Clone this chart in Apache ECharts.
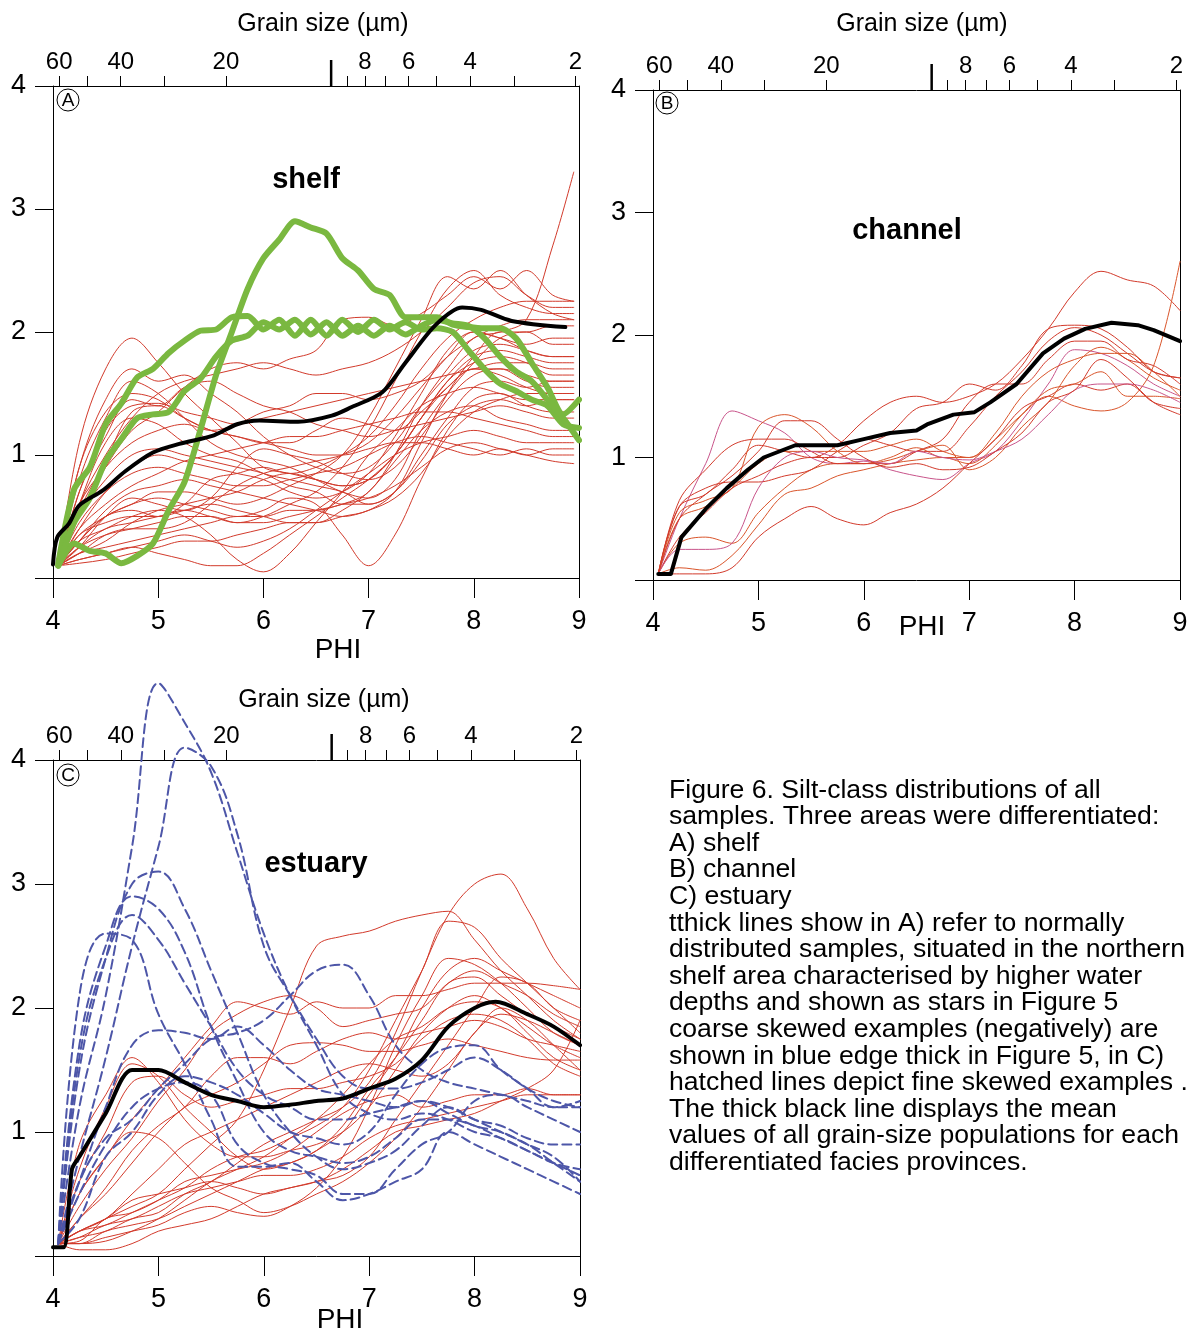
<!DOCTYPE html>
<html>
<head>
<meta charset="utf-8">
<script src="https://cdn.jsdelivr.net/npm/echarts@6/dist/echarts.min.js"></script>
<style>
html, body { margin: 0; background: #fff; }
#chart { width: 1191px; height: 1333px; }
</style>
</head>
<body>
<div id="chart"></div>
<script>
// grain size ticks on the top axis (µm)
var grainTicks = [60, 50, 40, 30, 20, 9, 8, 7, 6, 5, 4, 3, 2];
var grainLabels = [60, 40, 20, 8, 6, 4, 2];
var grainLong = 10;

// phi positions of the sample curves
var phiA = [4.05, 4.25, 4.5, 4.75, 5, 5.25, 5.5, 5.75, 6, 6.25, 6.5, 6.75, 7, 7.25, 7.5, 7.75, 8, 8.25, 8.5, 8.75, 8.95];
var phiB = [4.05, 4.25, 4.5, 4.75, 5, 5.25, 5.5, 5.75, 6, 6.25, 6.5, 6.75, 7, 7.25, 7.5, 7.75, 8, 8.25, 8.5, 8.75, 9];
var phiC = phiB;
var phiGreen = [4.05, 4.2, 4.35, 4.5, 4.65, 4.8, 4.95, 5.1, 5.25, 5.4, 5.55, 5.7, 5.85, 6, 6.15, 6.3, 6.45, 6.6, 6.75, 6.9, 7.05, 7.2, 7.35, 7.5, 7.65, 7.8, 7.95, 8.1, 8.25, 8.4, 8.55, 8.7, 8.85, 9];

// A) shelf samples
var shelfSamples = [
  [0.1,1.1,1.7,1.95,1.75,1.5,1.3,1.1,0.9,0.85,0.8,0.75,0.8,1.0,1.3,1.55,1.7,1.65,1.55,1.5,1.5],
  [0.1,0.9,1.45,1.7,1.6,1.65,1.5,1.35,1.15,1.0,0.9,0.85,0.9,1.1,1.4,1.65,1.85,1.9,1.85,1.8,1.8],
  [0.1,0.8,1.3,1.6,1.5,1.3,1.1,1.0,0.95,0.9,0.8,0.7,0.65,0.8,1.2,1.5,1.75,1.95,2.0,1.9,1.9],
  [0.1,0.7,1.2,1.4,1.42,1.35,1.3,1.25,1.3,1.35,1.4,1.45,1.5,1.55,1.6,1.65,1.7,1.75,1.75,1.7,1.7],
  [0.1,0.6,1.0,1.3,1.5,1.6,1.65,1.7,1.75,1.7,1.65,1.7,1.75,1.85,2.0,2.2,2.4,2.45,2.3,2.2,2.2],
  [0.1,0.5,0.9,1.2,1.35,1.55,1.7,1.75,1.7,1.78,1.85,2.1,2.12,2.05,2.15,2.3,2.45,2.35,2.5,2.3,2.25],
  [0.1,0.6,1.1,1.3,1.25,1.1,1.0,0.95,0.85,0.8,0.75,0.7,0.6,0.7,1.0,1.3,1.55,1.6,1.55,1.6,1.6],
  [0.1,0.2,0.25,0.3,0.35,0.4,0.45,0.5,0.5,0.55,0.55,0.6,0.65,0.75,0.9,1.05,1.1,1.05,1.0,0.95,0.93],
  [0.1,0.3,0.4,0.5,0.55,0.5,0.35,0.15,0.05,0.2,0.45,0.7,1.0,1.2,1.4,1.5,1.55,1.5,1.45,1.45,1.45],
  [0.1,0.35,0.5,0.6,0.65,0.6,0.55,0.5,0.55,0.65,0.6,0.35,0.1,0.35,0.8,1.2,1.45,1.5,1.4,1.35,1.35],
  [0.1,0.25,0.35,0.4,0.45,0.5,0.5,0.45,0.45,0.5,0.55,0.6,0.7,1.0,1.4,1.7,1.95,2.0,2.1,2.7,3.3],
  [0.1,0.15,0.2,0.25,0.2,0.15,0.1,0.1,0.2,0.35,0.5,0.65,0.8,1.0,1.3,1.6,1.8,1.85,1.8,1.75,1.75],
  [0.1,0.4,0.6,0.75,0.85,0.95,1.0,1.05,1.1,1.15,1.15,1.2,1.25,1.3,1.35,1.35,1.3,1.25,1.2,1.15,1.15],
  [0.1,0.5,0.8,1.0,1.05,1.0,0.95,0.9,0.85,0.75,0.7,0.6,0.6,0.7,0.95,1.25,1.4,1.45,1.4,1.45,1.45],
  [0.1,0.3,0.55,0.7,0.75,0.8,0.75,0.7,0.65,0.6,0.55,0.5,0.55,0.65,0.85,1.15,1.35,1.45,1.5,1.5,1.5],
  [0.1,0.2,0.3,0.45,0.55,0.6,0.65,0.7,0.8,0.85,0.8,0.75,0.8,1.0,1.3,1.6,1.75,1.8,1.75,1.65,1.65],
  [0.1,0.12,0.15,0.2,0.25,0.3,0.3,0.35,0.4,0.45,0.45,0.5,0.55,0.7,1.1,1.5,1.8,2.0,2.0,2.05,2.05],
  [0.1,0.6,0.9,1.1,1.2,1.25,1.2,1.25,1.35,1.4,1.5,1.5,1.45,1.5,1.6,1.8,1.95,2.05,2.1,2.1,2.1],
  [0.1,0.3,0.5,0.6,0.7,0.7,0.65,0.6,0.65,0.75,0.85,1.0,1.3,1.7,2.1,2.45,2.35,2.5,2.3,2.15,2.1],
  [0.1,0.45,0.7,0.85,0.9,0.85,0.8,0.75,0.75,0.8,0.85,0.9,1.0,1.1,1.15,1.1,1.05,1.0,1.05,1.0,1.0],
  [0.1,0.35,0.45,0.5,0.5,0.55,0.6,0.55,0.5,0.45,0.45,0.55,0.7,0.95,1.2,1.35,1.4,1.3,1.25,1.2,1.2],
  [0.1,0.55,0.95,1.35,1.4,1.3,1.2,1.15,1.1,1.1,1.2,1.3,1.25,1.2,1.35,1.55,1.7,1.7,1.65,1.6,1.6],
  [0.1,0.25,0.5,0.65,0.6,0.55,0.65,0.9,1.05,1.0,0.95,0.85,0.8,0.9,1.15,1.45,1.65,1.7,1.6,1.55,1.55],
  [0.1,0.2,0.35,0.4,0.4,0.45,0.6,0.75,0.85,0.9,0.95,1.0,1.1,1.3,1.55,1.8,2.0,1.95,1.85,1.8,1.8],
  [0.1,0.7,1.15,1.45,1.4,1.55,1.6,1.5,1.4,1.35,1.25,1.2,1.15,1.2,1.25,1.3,1.35,1.4,1.35,1.3,1.3],
  [0.1,0.4,0.7,0.9,1.0,0.95,0.9,0.85,0.8,0.7,0.65,0.7,0.85,1.15,1.5,1.85,2.0,1.95,1.9,1.95,1.95],
  [0.1,0.15,0.2,0.25,0.3,0.35,0.3,0.25,0.3,0.4,0.55,0.7,0.85,1.0,1.1,1.15,1.2,1.15,1.1,1.1,1.1],
  [0.1,0.3,0.5,0.55,0.5,0.6,0.8,0.85,0.9,0.85,0.9,1.0,1.15,1.4,1.7,1.95,2.1,2.2,2.25,2.25,2.25],
  [0.1,0.9,1.35,1.5,1.45,1.3,1.2,1.15,1.1,1.05,1.0,1.0,1.05,1.1,1.1,1.05,1.0,1.05,1.0,1.05,1.05],
  [0.1,0.25,0.4,0.45,0.5,0.55,0.5,0.45,0.5,0.6,0.7,0.9,1.2,1.6,2.0,2.35,2.5,2.3,2.2,2.15,2.15]
];

// A) normally distributed (thick green) samples
var shelfNormal = [
  [0.1,0.28,0.22,0.2,0.12,0.18,0.28,0.55,0.78,1.2,1.65,2.0,2.35,2.6,2.75,2.9,2.85,2.8,2.6,2.5,2.35,2.3,2.12,2.12,2.12,2.06,2.04,2.03,2.03,1.95,1.75,1.55,1.33,1.45],
  [0.12,0.72,0.9,1.25,1.42,1.63,1.7,1.83,1.93,2.01,2.02,2.12,2.13,2.02,2.1,1.97,2.1,1.97,2.1,2.0,2.1,2.02,2.08,2.02,2.03,2.0,1.85,1.7,1.58,1.52,1.45,1.4,1.25,1.22],
  [0.1,0.45,0.65,0.95,1.13,1.3,1.33,1.35,1.52,1.62,1.8,1.93,1.97,2.08,2.02,2.1,1.98,2.08,1.97,2.05,1.97,2.05,1.98,2.05,2.1,2.07,2.05,1.95,1.8,1.68,1.6,1.45,1.3,1.12]
];

var meanAPhi = [4.0,4.04,4.15,4.25,4.47,4.69,4.95,5.2,5.53,5.75,5.96,6.33,6.65,6.84,7.13,7.35,7.64,7.89,8.07,8.36,8.87];
var meanA = [0.11,0.33,0.44,0.59,0.71,0.87,1.02,1.09,1.16,1.25,1.28,1.27,1.32,1.39,1.51,1.75,2.06,2.2,2.18,2.09,2.04];

// B) channel samples
var channelSamples = [
  [0.05,0.5,0.95,1.38,1.3,1.2,1.0,0.95,0.97,0.9,0.85,0.82,0.95,1.05,1.3,1.6,1.88,1.85,1.75,1.6,1.5],
  [0.05,0.6,0.7,0.9,1.1,1.05,1.0,1.1,1.3,1.45,1.5,1.45,1.5,1.6,1.8,2.05,2.35,2.52,2.45,2.4,2.2],
  [0.05,0.3,0.35,0.3,0.55,0.75,0.9,0.95,0.95,1.0,1.08,1.0,1.0,1.15,1.35,1.5,1.42,1.38,1.45,1.75,2.6],
  [0.05,0.05,0.05,0.1,0.35,0.5,0.6,0.5,0.45,0.55,0.62,0.75,0.95,1.15,1.4,1.5,1.6,1.55,1.6,1.45,1.4],
  [0.05,0.1,0.08,0.2,0.45,0.7,0.75,0.85,0.9,0.95,0.98,1.0,0.95,1.1,1.35,1.55,1.6,1.7,1.5,1.5,1.48],
  [0.05,0.6,0.75,0.8,0.8,0.85,0.9,1.05,1.15,1.1,1.05,1.05,1.25,1.5,1.7,1.95,2.06,2.0,1.85,1.7,1.65],
  [0.05,0.55,0.65,0.75,1.25,1.35,1.25,1.05,0.95,0.98,1.05,1.1,0.9,1.0,1.25,1.45,1.75,1.9,1.8,1.65,1.55],
  [0.05,0.65,0.9,1.1,1.15,1.15,1.05,0.95,0.95,0.95,1.05,1.15,1.45,1.6,1.6,1.8,1.95,1.95,1.8,1.75,1.6],
  [0.05,0.5,0.6,0.75,0.95,1.05,1.05,1.05,1.05,1.1,1.15,1.05,1.0,1.2,1.5,1.7,1.8,1.85,1.85,1.7,1.5],
  [0.05,0.35,0.55,0.75,0.85,0.95,1.0,1.0,1.1,1.2,1.4,1.45,1.6,1.55,1.75,2.05,2.08,2.05,1.9,1.7,1.65],
  [0.05,0.25,0.25,0.3,0.75,1.0,1.05,1.0,0.98,0.95,1.05,1.0,0.98,1.05,1.15,1.35,1.55,1.6,1.6,1.55,1.45],
  [0.05,0.5,0.7,0.85,1.05,1.3,1.3,1.15,1.0,0.92,0.95,0.9,0.92,1.05,1.2,1.45,1.55,1.8,1.65,1.45,1.35]
];
var channelColors = ['#c8548a','#d23a2b','#d9552b','#d23a2b','#d9552b','#d23a2b','#d9552b','#d23a2b','#d9552b','#d23a2b','#c8548a','#d23a2b'];

var meanBPhi = [4.05,4.17,4.27,4.5,4.7,4.9,5.05,5.35,5.75,6.0,6.25,6.5,6.6,6.85,7.05,7.2,7.45,7.7,7.9,8.1,8.35,8.6,8.75,9.0];
var meanB = [0.05,0.05,0.35,0.58,0.75,0.9,1.0,1.1,1.1,1.15,1.2,1.22,1.27,1.35,1.37,1.45,1.6,1.85,1.97,2.05,2.1,2.08,2.04,1.95];

// C) estuary samples
var estuarySamples = [
  [0.1,0.15,0.2,0.3,0.35,0.5,0.6,0.75,0.9,1.0,1.1,1.2,1.4,1.8,2.3,2.75,3.0,3.08,2.8,2.4,2.15],
  [0.1,0.2,0.25,0.35,0.45,0.55,0.7,0.8,0.85,0.95,1.05,1.2,1.5,1.9,2.3,2.7,2.65,2.4,2.2,2.0,1.8],
  [0.1,0.2,0.3,0.4,0.5,0.7,0.9,1.1,1.5,2.0,2.5,2.58,2.62,2.7,2.75,2.78,2.55,2.3,2.1,1.9,1.75],
  [0.1,0.9,1.3,1.6,1.4,1.1,0.9,0.8,0.8,0.85,0.9,1.0,1.2,1.5,1.8,2.0,2.1,2.0,1.85,1.7,1.6],
  [0.1,0.7,1.2,1.55,1.45,1.2,1.0,0.8,0.7,0.75,0.85,1.0,1.3,1.6,2.0,2.3,2.4,2.3,2.2,2.1,2.0],
  [0.1,0.5,0.8,1.1,1.35,1.6,1.85,2.05,2.0,1.95,2.05,2.0,2.0,2.1,2.1,2.15,2.2,2.2,2.2,2.18,2.15],
  [0.1,0.4,0.7,0.95,1.25,1.5,1.8,1.95,2.05,2.1,2.0,1.85,1.9,1.95,2.0,2.2,2.3,2.2,2.1,1.95,1.85],
  [0.1,0.3,0.5,0.75,1.0,1.2,1.3,1.4,1.55,1.7,1.72,1.7,1.65,1.65,1.7,1.75,1.7,1.65,1.6,1.58,1.58],
  [0.1,0.2,0.3,0.5,0.7,0.9,1.0,1.1,1.2,1.3,1.4,1.5,1.55,1.5,1.45,1.55,1.8,2.0,1.9,1.7,1.5],
  [0.1,0.1,0.15,0.2,0.25,0.35,0.4,0.35,0.32,0.4,0.55,0.8,1.2,1.7,2.1,2.4,2.35,2.2,2.0,1.8,1.7],
  [0.1,0.1,0.2,0.25,0.3,0.4,0.5,0.6,0.7,0.75,0.85,1.05,1.35,1.6,1.9,2.2,2.25,2.1,1.95,1.85,1.75],
  [0.1,0.12,0.3,0.35,0.45,0.6,0.65,0.7,0.75,0.85,1.0,1.15,1.25,1.3,1.2,1.25,1.3,1.3,1.35,1.3,1.3],
  [0.1,0.6,1.0,1.4,1.45,1.3,1.2,1.25,1.3,1.35,1.35,1.4,1.45,1.55,1.75,1.9,1.95,1.9,1.75,1.55,1.45],
  [0.1,0.3,0.55,0.85,1.05,1.2,1.45,1.6,1.6,1.55,1.65,1.75,1.8,1.75,1.8,1.85,1.9,1.85,1.75,1.7,1.65],
  [0.1,0.15,0.25,0.3,0.4,0.5,0.55,0.6,0.65,0.65,0.7,0.8,0.95,1.05,1.1,1.15,1.2,1.25,1.3,1.3,1.3],
  [0.1,0.1,0.12,0.2,0.3,0.45,0.6,0.7,0.8,0.95,1.1,1.3,1.55,1.75,1.85,2.0,2.05,2.0,1.8,1.6,1.5],
  [0.1,0.5,0.8,1.0,0.95,0.75,0.55,0.45,0.35,0.4,0.5,0.6,0.75,0.95,1.2,1.5,1.8,1.95,1.9,1.8,1.7],
  [0.1,0.2,0.3,0.45,0.5,0.55,0.6,0.55,0.5,0.55,0.6,0.65,0.8,1.1,1.4,1.7,2.0,2.25,2.2,2.0,1.9],
  [0.1,0.05,0.05,0.1,0.2,0.25,0.3,0.4,0.5,0.55,0.6,0.7,0.85,1.0,1.05,1.1,1.15,1.25,1.35,1.5,1.9]
];

// C) fine skewed (hatched blue) samples
var estuaryFine = [
  [0.1,1.2,2.1,3.3,4.62,4.3,3.9,3.25,2.6,2.1,1.7,1.3,1.15,1.1,1.15,1.1,1.0,0.95,0.85,0.75,0.65],
  [0.1,0.8,1.6,2.5,3.3,4.1,3.95,3.4,2.5,2.1,1.75,1.45,1.35,1.35,1.4,1.5,1.6,1.5,1.35,1.25,1.2],
  [0.1,1.5,2.4,3.0,3.1,2.8,2.3,1.8,1.3,1.0,0.8,0.7,0.75,0.85,1.05,1.2,1.1,1.05,0.95,0.9,0.9],
  [0.1,1.7,2.5,2.9,2.8,2.45,1.85,1.4,1.0,0.85,0.8,0.75,0.8,0.95,1.1,1.1,1.05,0.95,0.85,0.75,0.7],
  [0.1,1.6,2.4,2.75,2.55,2.2,1.85,1.5,1.3,1.2,1.1,1.1,1.15,1.2,1.25,1.15,1.05,1.0,0.9,0.8,0.6],
  [0.1,2.1,2.6,2.55,1.95,1.55,1.1,0.72,0.72,0.75,0.6,0.45,0.5,0.6,0.7,1.0,0.9,0.8,0.7,0.6,0.5],
  [0.1,0.6,1.2,1.7,1.82,1.8,1.75,1.85,1.7,1.5,1.35,1.3,1.25,1.2,1.25,1.2,1.1,1.0,0.9,0.75,0.6],
  [0.1,0.6,0.95,1.1,1.35,1.55,1.75,1.8,1.9,2.1,2.3,2.35,2.1,1.7,1.5,1.4,1.35,1.3,1.25,1.2,1.25],
  [0.1,0.3,0.8,1.0,1.3,1.45,1.4,1.3,1.15,1.0,0.95,0.9,1.0,1.3,1.55,1.68,1.7,1.5,1.35,1.2,1.2],
  [0.1,0.5,0.9,1.2,1.35,1.4,1.3,0.9,0.75,0.7,0.65,0.5,0.5,0.7,0.9,1.0,1.25,1.3,1.2,1.1,1.0]
];

var meanCPhi = [4.0,4.1,4.18,4.25,4.5,4.75,5.0,5.25,5.5,5.75,6.0,6.25,6.5,6.75,7.0,7.25,7.5,7.75,8.0,8.2,8.5,8.75,9.0];
var meanC = [0.07,0.07,0.7,0.8,1.15,1.5,1.5,1.4,1.3,1.25,1.2,1.22,1.25,1.27,1.35,1.43,1.58,1.85,2.0,2.05,1.95,1.85,1.7];

var captionLines = [
  'Figure 6. Silt-class distributions of all',
  'samples. Three areas were differentiated:',
  'A) shelf',
  'B) channel',
  'C) estuary',
  'tthick lines show in A) refer to normally',
  'distributed samples, situated in the northern',
  'shelf area characterised by higher water',
  'depths and shown as stars in Figure 5',
  'coarse skewed examples (negatively) are',
  'shown in blue edge thick in Figure 5, in C)',
  'hatched lines depict fine skewed examples .',
  'The thick black line displays the mean',
  'values of all grain-size populations for each',
  'differentiated facies provinces.'
];

var FONT = '"Liberation Sans", Arial, Helvetica, sans-serif';
var RED = '#d23a2b';
var GREEN = '#7ab840';
var BLUE = '#4d56a8';

function grainToPhi(um) { return -Math.log(um / 1000) / Math.LN2; }
function phiToGrain(phi) { return String(Math.round(1000 * Math.pow(2, -phi))); }

var panels = [
  { left: 53, top: 86, width: 526, height: 492 },
  { left: 653, top: 90, width: 527, height: 490 },
  { left: 53, top: 760, width: 527, height: 496 }
];

var grid = [], xAxis = [], yAxis = [], series = [];
var black = { color: '#000', width: 1 };

panels.forEach(function (p, k) {
  grid.push({ left: p.left, top: p.top, width: p.width, height: p.height });
  xAxis.push({
    gridIndex: k, type: 'value', position: 'bottom', min: 4, max: 9, interval: 1,
    axisLine: { onZero: false, lineStyle: black },
    axisTick: { length: 20, lineStyle: black },
    axisLabel: { color: '#000', fontSize: 27, fontFamily: FONT, margin: 30 },
    splitLine: { show: false }
  });
  xAxis.push({
    gridIndex: k, type: 'value', position: 'top', min: 4, max: 9,
    axisLine: { onZero: false, lineStyle: black },
    axisTick: { length: 10, lineStyle: black, customValues: grainTicks.map(grainToPhi) },
    axisLabel: { color: '#000', fontSize: 24, fontFamily: FONT, margin: 12,
      customValues: grainLabels.map(grainToPhi), formatter: phiToGrain },
    splitLine: { show: false }
  });
  yAxis.push({
    gridIndex: k, type: 'value', min: 0, max: 4, interval: 1,
    axisLine: { show: true, onZero: false, lineStyle: black },
    axisTick: { show: true, length: 18, lineStyle: black },
    axisLabel: { color: '#000', fontSize: 27, fontFamily: FONT, margin: 27,
      formatter: function (v) { return v === 0 ? '' : String(v); } },
    splitLine: { show: false }
  });
  yAxis.push({
    gridIndex: k, type: 'value', position: 'right', min: 0, max: 4,
    axisLine: { show: true, onZero: false, lineStyle: black },
    axisTick: { show: false }, axisLabel: { show: false },
    splitLine: { show: false }
  });
});

function addLine(k, phis, vals, style) {
  series.push({
    type: 'line', xAxisIndex: 2 * k, yAxisIndex: 2 * k,
    data: phis.map(function (x, i) { return [x, vals[i]]; }),
    symbol: 'none', smooth: style.smooth, silent: true, z: style.z || 2,
    clip: style.clip !== false,
    lineStyle: { color: style.color, width: style.width, type: style.type || 'solid', cap: 'round', join: 'round' }
  });
}

shelfSamples.forEach(function (v) { addLine(0, phiA, v, { color: RED, width: 1, smooth: 0.35 }); });
shelfNormal.forEach(function (v) { addLine(0, phiGreen, v, { color: GREEN, width: 6, smooth: 0.25, z: 3 }); });
addLine(0, meanAPhi, meanA, { color: '#000', width: 4, smooth: 0.3, z: 4 });

channelSamples.forEach(function (v, i) { addLine(1, phiB, v, { color: channelColors[i], width: 1, smooth: 0.35 }); });
addLine(1, meanBPhi, meanB, { color: '#000', width: 4, smooth: false, z: 4 });

estuarySamples.forEach(function (v) { addLine(2, phiC, v, { color: RED, width: 1, smooth: 0.35 }); });
estuaryFine.forEach(function (v) { addLine(2, phiC, v, { color: BLUE, width: 2, smooth: 0.4, type: [9, 5], z: 3, clip: false }); });
addLine(2, meanCPhi, meanC, { color: '#000', width: 4, smooth: 0.3, z: 4 });

function txt(x, y, s, size, weight) {
  return { type: 'text', x: x, y: y, silent: true,
    style: { text: s, fill: '#000', font: (weight || 'normal') + ' ' + size + 'px ' + FONT, textAlign: 'center', textVerticalAlign: 'middle' } };
}
function circled(x, y, s) {
  return [
    { type: 'circle', shape: { cx: x, cy: y, r: 11 }, style: { fill: 'none', stroke: '#000', lineWidth: 1 }, silent: true },
    txt(x, y + 1, s, 19)
  ];
}

var graphic = [
  txt(323, 24, 'Grain size (µm)', 25),
  txt(922, 24, 'Grain size (µm)', 25),
  txt(324, 700, 'Grain size (µm)', 25),
  txt(338, 650, 'PHI', 28),
  txt(922, 627, 'PHI', 28),
  txt(340, 1320, 'PHI', 28),
  txt(306, 180, 'shelf', 29, 'bold'),
  txt(907, 231, 'channel', 29, 'bold'),
  txt(316, 864, 'estuary', 29, 'bold'),
  { type: 'text', x: 669, y: 777, silent: true,
    style: { text: captionLines.join('\n'), fill: '#000', font: '26.6px ' + FONT, lineHeight: 26.6, textAlign: 'left', textVerticalAlign: 'top' } }
].concat(circled(68, 100, 'A'), circled(667, 103, 'B'), circled(68, 775, 'C'));

var chart = echarts.init(document.getElementById('chart'));
chart.setOption({
  animation: false,
  backgroundColor: '#fff',
  grid: grid,
  xAxis: xAxis,
  yAxis: yAxis,
  series: series,
  graphic: graphic
});

// long tick at 10 µm on each top axis, placed through the axis scale
panels.forEach(function (p, k) {
  var x = chart.convertToPixel({ xAxisIndex: 2 * k + 1 }, grainToPhi(grainLong));
  graphic.push({ type: 'line', silent: true, z: 10,
    shape: { x1: x, y1: p.top - 26, x2: x, y2: p.top },
    style: { stroke: '#000', lineWidth: 2.5 } });
});
chart.setOption({ graphic: graphic });
</script>
</body>
</html>
